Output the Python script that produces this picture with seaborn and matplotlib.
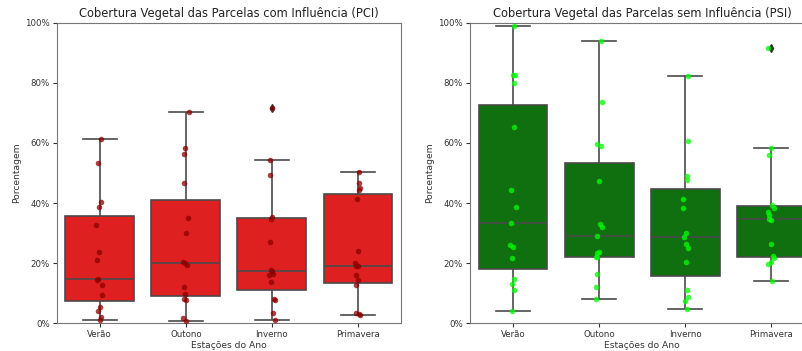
import numpy as np
import pandas as pd
import matplotlib
matplotlib.use("Agg")
import matplotlib.pyplot as plt
import matplotlib.ticker as mtick
import seaborn as sns

# Estações e valores de cobertura (%)
estacoes = ['Verão', 'Outono', 'Inverno', 'Primavera']

pci_verao = [1.1, 2.1, 4.2, 5.5, 9.4, 12.7, 14.4, 14.9, 20.9, 23.8, 32.8, 38.8, 40.4, 53.2, 61.4]
pci_outono = [0.6, 1.9, 7.7, 8.2, 9.7, 12.2, 19.4, 20.0, 20.3, 29.9, 35.1, 46.8, 56.3, 58.4, 70.4]
pci_inverno = [1.0, 3.4, 7.6, 8.2, 13.7, 16.2, 16.5, 17.4, 17.8, 27.0, 34.6, 35.5, 49.5, 54.4, 71.7]
pci_primavera = [2.8, 3.2, 3.5, 12.7, 14.4, 16.2, 18.9, 19.2, 20.0, 24.0, 41.4, 44.4, 44.9, 46.8, 50.3]

psi_verao = [4.2, 11.1, 13.0, 14.7, 21.7, 25.4, 26.1, 33.3, 38.7, 44.2, 65.3, 79.9, 82.5, 82.5, 99.1]
psi_outono = [8.1, 12.1, 16.5, 21.9, 21.9, 23.5, 23.8, 29.2, 32.2, 33.2, 47.5, 59.1, 59.5, 73.7, 93.9]
psi_inverno = [4.9, 7.5, 8.9, 11.0, 20.4, 24.9, 26.5, 28.8, 29.9, 38.4, 41.5, 47.8, 49.1, 60.8, 82.2]
psi_primavera = [14.0, 19.7, 20.4, 21.7, 22.5, 26.5, 34.5, 34.7, 36.0, 37.0, 38.5, 39.3, 56.1, 58.3, 91.5]


def monta_df(listas):
    linhas = []
    for est, vals in zip(estacoes, listas):
        for v in vals:
            linhas.append({'Estação': est, 'Cobertura': v / 100})
    return pd.DataFrame(linhas)


df_pci = monta_df([pci_verao, pci_outono, pci_inverno, pci_primavera])
df_psi = monta_df([psi_verao, psi_outono, psi_inverno, psi_primavera])

np.random.seed(3)
fig = plt.figure(figsize=(8.03, 3.51), dpi=100)
ax1 = fig.add_axes([0.0706, 0.079, 0.4288, 0.856])
ax2 = fig.add_axes([0.5853, 0.079, 0.4288, 0.856])

paineis = [
    (ax1, df_pci, 'red', 'darkred', 'Cobertura Vegetal das Parcelas com Influência (PCI)'),
    (ax2, df_psi, 'green', 'lime', 'Cobertura Vegetal das Parcelas sem Influência (PSI)'),
]

for ax, df, cor_box, cor_pts, titulo in paineis:
    sns.boxplot(data=df, x='Estação', y='Cobertura', color=cor_box, order=estacoes,
                linecolor='#4a4a4a', linewidth=1.2,
                flierprops=dict(marker='d', markerfacecolor='#333333',
                                markeredgecolor='#333333', markersize=4), ax=ax)
    sns.stripplot(data=df, x='Estação', y='Cobertura', color=cor_pts, order=estacoes,
                  size=4, jitter=0.04, alpha=0.75, ax=ax)
    ax.set_ylim(0, 1)
    ax.yaxis.set_major_formatter(mtick.PercentFormatter(1.0, decimals=0))
    ax.set_title(titulo, fontsize=8.3, color='#222222', pad=4)
    ax.set_xlabel('Estações do Ano', fontsize=6.6, color='#333333', labelpad=1)
    ax.set_ylabel('Porcentagem', fontsize=6.6, color='#333333', labelpad=3)
    ax.tick_params(labelsize=6.2, colors='#333333', length=3, pad=2)
    for s in ax.spines.values():
        s.set_color('#777777')

fig.savefig('out.png', dpi=100)
